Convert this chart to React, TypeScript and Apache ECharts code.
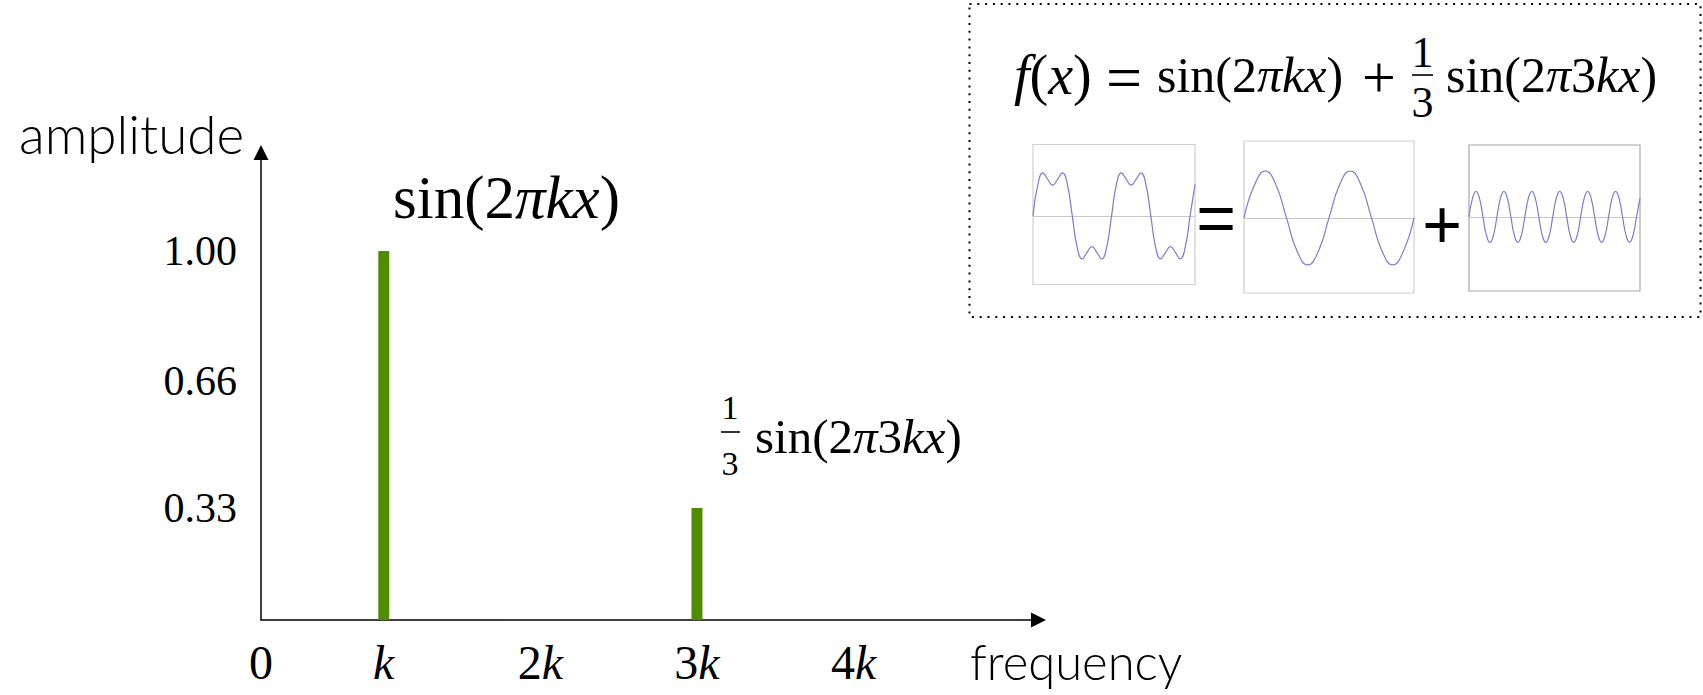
import React, { useEffect, useRef } from 'react';
import * as echarts from 'echarts';

// ---- main spectrum data ----
const xTickValues = [0, 1, 2, 3, 4];
const xTickLabels = ['0', 'k', '2k', '3k', '4k'];
const yTickValues = [0.33, 0.66, 1.0];
const frequencies = [1, 3];
const amplitudes = [1.0, 0.33];

// ---- inset waveforms ----
const combinedWave = [
  0, 0.69, 0.94, 0.8, 0.67, 0.8, 0.94, 0.69,
  0, -0.69, -0.94, -0.8, -0.67, -0.8, -0.94, -0.69,
  0, 0.69, 0.94, 0.8, 0.67, 0.8, 0.94, 0.69,
  0, -0.69, -0.94, -0.8, -0.67, -0.8, -0.94, -0.69,
  0, 0.69,
];
const fundamentalWave = [
  0, 0.71, 1, 0.71, 0, -0.71, -1, -0.71,
  0, 0.71, 1, 0.71, 0, -0.71, -1, -0.71,
  0,
];
const thirdHarmonicWave = [
  0, 0.24, 0.33, 0.24, 0, -0.24, -0.33, -0.24,
  0, 0.24, 0.33, 0.24, 0, -0.24, -0.33, -0.24,
  0, 0.24, 0.33, 0.24, 0, -0.24, -0.33, -0.24,
  0, 0.24, 0.33, 0.24, 0, -0.24, -0.33, -0.24,
  0, 0.24, 0.33, 0.24, 0, -0.24, -0.33, -0.24,
  0, 0.24, 0.33, 0.24, 0, -0.24, -0.33, -0.24,
  0, 0.24,
];

const X_MIN = 0.216;
const X_MAX = 5.181;
const Y_MIN = 0.038;
const Y_MAX = 1.257;

const SERIF = 'Liberation Serif';
const SANS_LIGHT = 'Lato';
const BAR_COLOR = '#4f8c00';
const WAVE_COLOR = '#7b7bd0';

const mathRich = (size: number) => ({
  r: { fontFamily: SERIF, fontSize: size, fontStyle: 'normal', color: '#000' },
  i: { fontFamily: SERIF, fontSize: size, fontStyle: 'italic', color: '#000' },
});

const xLabelRich = (label: string) => {
  const m = label.match(/^(\d*)(k?)$/);
  if (!m) return `{r|${label}}`;
  return (m[1] ? `{r|${m[1]}}` : '') + (m[2] ? `{i|${m[2]}}` : '');
};

const mathText = (x: number, y: number, text: string, size: number, align = 'left') => ({
  type: 'text',
  x,
  y,
  silent: true,
  style: {
    text,
    rich: mathRich(size),
    fontFamily: SERIF,
    fontSize: size,
    fill: '#000',
    align,
    textAlign: align,
    verticalAlign: 'middle',
    textVerticalAlign: 'middle',
  },
});

const plainText = (x: number, y: number, text: string, size: number, family: string, weight: any = 'normal', align = 'left') => ({
  type: 'text',
  x,
  y,
  silent: true,
  style: {
    text,
    fontFamily: family,
    fontSize: size,
    fontWeight: weight,
    fill: '#000',
    align,
    textAlign: align,
    verticalAlign: 'middle',
    textVerticalAlign: 'middle',
  },
});

const fracLine = (x1: number, x2: number, y: number) => ({
  type: 'line',
  silent: true,
  shape: { x1, y1: y, x2, y2: y },
  style: { stroke: '#000', lineWidth: 1.6 },
});

const insetGrids = [
  { left: 1033, top: 144.5, width: 162, height: 140, borderColor: '#cfcfcf', min: -1.5, max: 1.56, data: combinedWave },
  { left: 1244, top: 141, width: 170, height: 152, borderColor: '#cfcfcf', min: -1.6, max: 1.64, data: fundamentalWave },
  { left: 1469, top: 145, width: 171, height: 146, borderColor: '#a8a8a8', min: -0.96, max: 0.93, data: thirdHarmonicWave },
];

export default function App() {
  const ref = useRef<HTMLDivElement>(null);

  useEffect(() => {
    if (!ref.current) return;
    const chart = echarts.init(ref.current, undefined, { renderer: 'svg' });

    const grids: any[] = [
      { left: 261, right: 664.5, top: 152.5, bottom: 75, containLabel: false },
      ...insetGrids.map((g) => ({
        left: g.left,
        top: g.top,
        width: g.width,
        height: g.height,
        show: true,
        borderColor: g.borderColor,
        borderWidth: 1.2,
        backgroundColor: 'transparent',
      })),
    ];

    const xAxes: any[] = [
      {
        type: 'value',
        gridIndex: 0,
        min: X_MIN,
        max: X_MAX,
        splitLine: { show: false },
        axisTick: { show: false },
        axisLine: {
          show: true,
          onZero: false,
          symbol: ['none', 'triangle'],
          symbolSize: [15, 15],
          lineStyle: { color: '#000', width: 1.5 },
        },
        axisLabel: {
          customValues: xTickValues.map((v) => Math.max(v, X_MIN)),
          margin: 18,
          fontFamily: SERIF,
          fontSize: 48,
          color: '#000',
          rich: mathRich(48),
          formatter: (v: number) => {
            let idx = 0;
            let best = Infinity;
            xTickValues.forEach((t, i) => {
              const d = Math.abs(Math.max(t, X_MIN) - v);
              if (d < best) { best = d; idx = i; }
            });
            return xLabelRich(xTickLabels[idx]);
          },
        },
      },
      ...insetGrids.map((g, i) => ({
        type: 'category',
        gridIndex: i + 1,
        boundaryGap: false,
        data: g.data.map((_, j) => j),
        axisLabel: { show: false },
        axisTick: { show: false },
        splitLine: { show: false },
        axisLine: { show: true, onZero: true, lineStyle: { color: '#c8c8c8', width: 1.2 } },
      })),
    ];

    const yAxes: any[] = [
      {
        type: 'value',
        gridIndex: 0,
        min: Y_MIN,
        max: Y_MAX,
        splitLine: { show: false },
        axisTick: { show: false },
        axisLine: {
          show: true,
          onZero: false,
          symbol: ['none', 'triangle'],
          symbolSize: [15, 15],
          lineStyle: { color: '#000', width: 1.5 },
        },
        axisLabel: {
          customValues: yTickValues,
          margin: 24,
          fontFamily: SERIF,
          fontSize: 42,
          color: '#000',
          formatter: (v: number) => v.toFixed(2),
        },
      },
      ...insetGrids.map((g, i) => ({
        type: 'value',
        gridIndex: i + 1,
        min: g.min,
        max: g.max,
        show: false,
        splitLine: { show: false },
      })),
    ];

    const series: any[] = [
      {
        type: 'bar',
        xAxisIndex: 0,
        yAxisIndex: 0,
        barWidth: 11,
        itemStyle: { color: BAR_COLOR },
        data: frequencies.map((f, i) => [f, amplitudes[i]]),
        silent: true,
      },
      ...insetGrids.map((g, i) => ({
        type: 'line',
        xAxisIndex: i + 1,
        yAxisIndex: i + 1,
        data: g.data,
        smooth: 0.5,
        showSymbol: false,
        symbol: 'none',
        lineStyle: { color: WAVE_COLOR, width: 1.2 },
        silent: true,
      })),
    ];

    const graphic: any[] = [
      // axis names
      plainText(19, 133, 'amplitude', 53, SANS_LIGHT, 300),
      plainText(970, 661, 'frequency', 49, SANS_LIGHT, 300),
      // annotation for fundamental
      mathText(393, 197, '{r|sin(2}{i|π}{i|kx}{r|)}', 61),
      // annotation for third harmonic
      mathText(730, 407, '{r|1}', 34, 'center'),
      fracLine(721, 740, 432),
      mathText(730, 463, '{r|3}', 34, 'center'),
      mathText(755, 436, '{r|sin(2}{i|π}{r|3}{i|kx}{r|)}', 49),
      // inset box
      {
        type: 'rect',
        silent: true,
        shape: { x: 969.5, y: 4, width: 731, height: 313 },
        style: { fill: 'none', stroke: '#000', lineWidth: 2, lineDash: [2, 5.8] },
      },
      // inset formula
      mathText(1014, 75, '{i|f}{r|(}{i|x}{r|)}', 56),
      mathText(1124, 77, '{r|=}', 64, 'center'),
      mathText(1157, 75, '{r|sin(2}{i|π}{i|kx}{r|)}', 50),
      mathText(1379, 77, '{r|+}', 60, 'center'),
      mathText(1422.5, 52, '{r|1}', 44, 'center'),
      fracLine(1412, 1433, 75),
      mathText(1422.5, 102, '{r|3}', 44, 'center'),
      mathText(1446, 75, '{r|sin(2}{i|π}{r|3}{i|kx}{r|)}', 50),
      // = and + between small plots
      plainText(1216, 218, '=', 68, 'Liberation Sans', 'normal', 'center'),
      plainText(1442, 224, '+', 68, 'Liberation Sans', 'normal', 'center'),
    ];

    chart.setOption({
      animation: false,
      backgroundColor: '#fff',
      grid: grids,
      xAxis: xAxes,
      yAxis: yAxes,
      series,
      graphic: { elements: graphic },
    });

    return () => chart.dispose();
  }, []);

  return (
    <div
      ref={ref}
      style={{ position: 'fixed', left: 0, top: 0, width: 1703, height: 695 }}
    />
  );
}
